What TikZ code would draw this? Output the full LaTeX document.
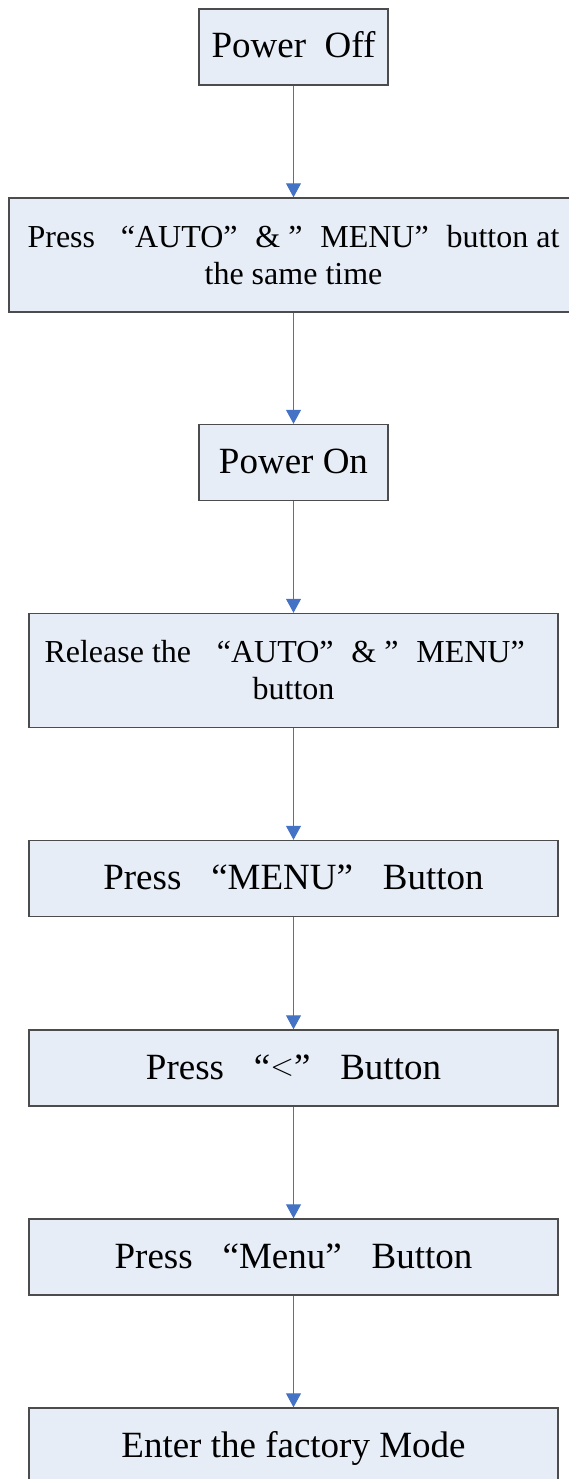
\documentclass[tikz,border=0pt]{standalone}
\usepackage{fontspec}
\setmainfont{Liberation Serif}
\usetikzlibrary{arrows.meta, positioning}
\definecolor{boxfill}{HTML}{E7EDF7}
\definecolor{linkblue}{HTML}{4472C4}
\newcommand{\qopen}{\makebox[1em][r]{“}}
\newcommand{\qclose}{\makebox[1em][l]{”}}
\tikzstyle{box} = [rectangle, inner sep=0pt, draw=black!70, line width=1.4pt, fill=boxfill]
\tikzstyle{block} = [box, minimum width=529pt, minimum height=76pt, text centered, font=\fontsize{37}{42}\selectfont, text height=26pt, text depth=4pt]
\tikzstyle{smallblock} = [block, minimum width=189pt]
\tikzstyle{tallblock} = [box, minimum width=529pt, minimum height=114pt, align=center, font=\fontsize{32}{37}\selectfont]
\tikzstyle{arrow} = [-{Triangle[width=15pt, length=14pt]}, draw=linkblue, line width=1pt]

\begin{document}
\begin{tikzpicture}[x=1pt, y=-1pt]

    \useasboundingbox (0, 0) rectangle (568, 1479);

    \node (off) [smallblock] at (293.5, 47) {Power\ \ Off};
    \node (press) [tallblock, minimum width=569pt] at (293.5, 255) {Press \qopen AUTO\qclose\& \qclose MENU\qclose button at\\the same time};
    \node (on) [smallblock] at (293.5, 462.5) {Power On};
    \node (release) [tallblock] at (293.5, 670.5) {Release the \qopen AUTO\qclose\& \qclose MENU\qclose\\button};
    \node (menu) [block] at (293.5, 878.5) {Press \qopen MENU\qclose{} Button};
    \node (less) [block] at (293.5, 1068) {Press \qopen\raisebox{4pt}{\scalebox{1.25}{$<$}}\qclose{} Button};
    \node (menusmall) [block] at (293.5, 1257) {Press \qopen Menu\qclose{} Button};
    \node (factory) [block] at (293.5, 1446) {Enter the factory Mode};

    \draw [arrow] (off) -- (press);
    \draw [arrow] (press) -- (on);
    \draw [arrow] (on) -- (release);
    \draw [arrow] (release) -- (menu);
    \draw [arrow] (menu) -- (less);
    \draw [arrow] (less) -- (menusmall);
    \draw [arrow] (menusmall) -- (factory);

\end{tikzpicture}
\end{document}
